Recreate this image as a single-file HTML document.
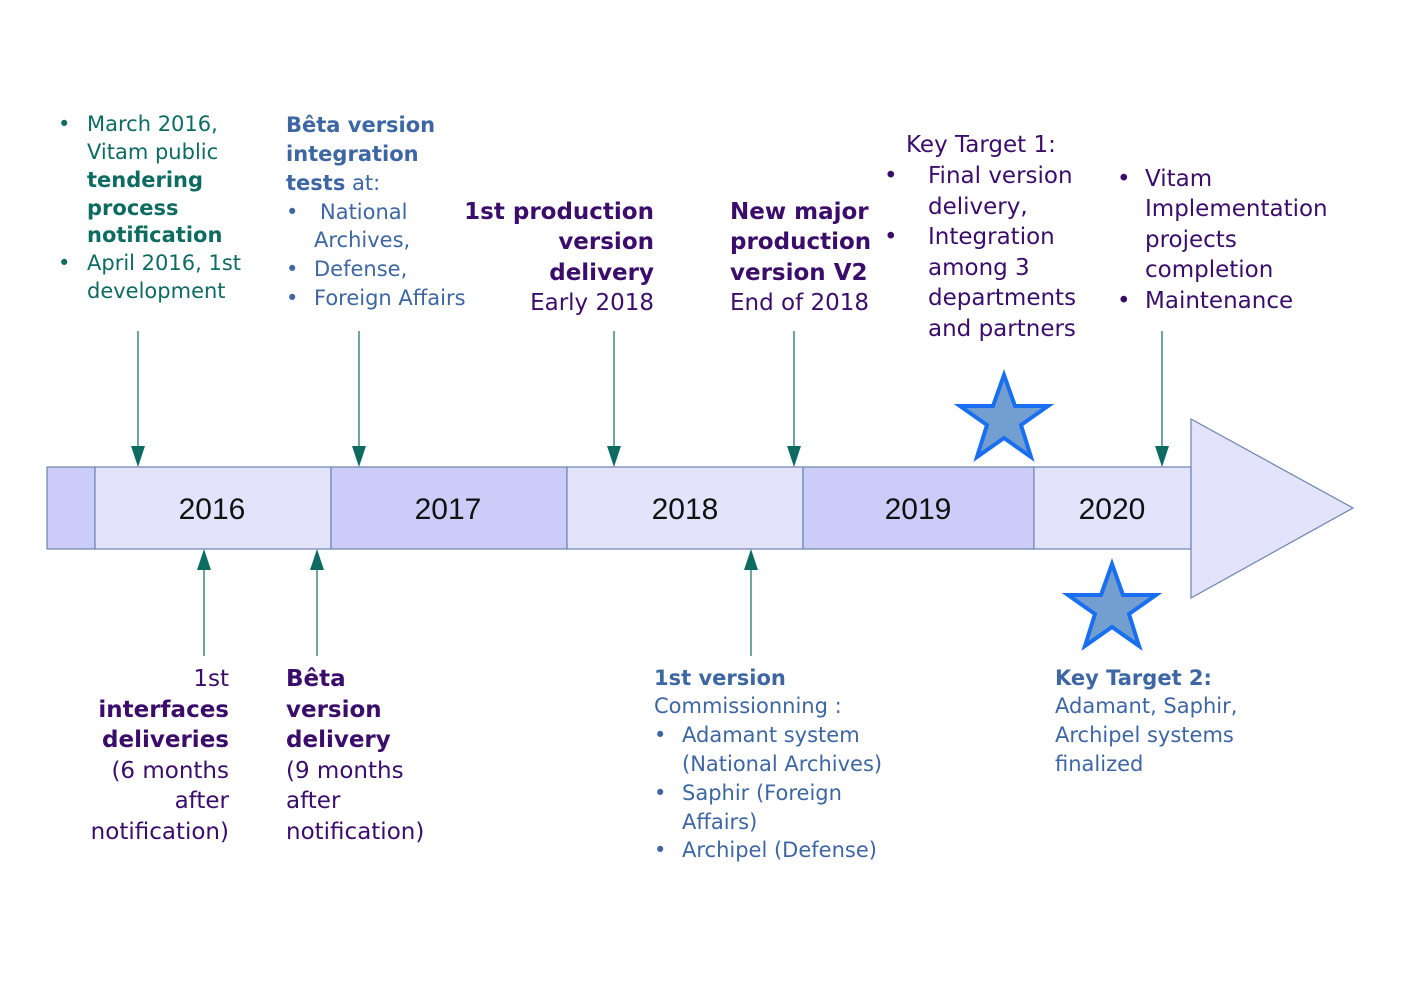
<!DOCTYPE html>
<html><head><meta charset="utf-8"><style>
html,body{margin:0;padding:0;background:#fff}
svg{display:block}
text{font-family:"DejaVu Sans","Liberation Sans",sans-serif}
.t{fill:#0d6b61;font-size:21px}
.b{fill:#3d66a3;font-size:21px}
.p{fill:#3b0d6b;font-size:23px}
.yr{font-family:"Liberation Sans",sans-serif;font-size:30px;fill:#111}
.bold{font-weight:bold}
</style></head><body>
<svg width="1403" height="992" viewBox="0 0 1403 992" xmlns="http://www.w3.org/2000/svg">
<!-- bar -->
<g stroke="#6c84b0" stroke-width="1.2">
<rect x="47" y="467" width="48" height="82" fill="#ccccf8"/>
<rect x="95" y="467" width="236" height="82" fill="#e3e3fb"/>
<rect x="331" y="467" width="236" height="82" fill="#ccccf8"/>
<rect x="567" y="467" width="236" height="82" fill="#e3e3fb"/>
<rect x="803" y="467" width="231" height="82" fill="#ccccf8"/>
<rect x="1034" y="467" width="157" height="82" fill="#e3e3fb"/>
<polygon points="1191,419 1353,508 1191,598" fill="#e3e3fb"/>
</g>
<text class="yr" x="212" y="519" text-anchor="middle">2016</text>
<text class="yr" x="448" y="519" text-anchor="middle">2017</text>
<text class="yr" x="685" y="519" text-anchor="middle">2018</text>
<text class="yr" x="918" y="519" text-anchor="middle">2019</text>
<text class="yr" x="1112" y="519" text-anchor="middle">2020</text>
<!-- arrows -->
<g stroke="#0d6b61" stroke-width="1.2" fill="none">
<line x1="138" y1="331" x2="138" y2="450"/>
<line x1="359" y1="331" x2="359" y2="450"/>
<line x1="614" y1="331" x2="614" y2="450"/>
<line x1="794" y1="331" x2="794" y2="450"/>
<line x1="1162" y1="331" x2="1162" y2="450"/>
<line x1="204" y1="656" x2="204" y2="566"/>
<line x1="317" y1="656" x2="317" y2="566"/>
<line x1="751" y1="656" x2="751" y2="566"/>
</g>
<g fill="#0d6b61">
<polygon points="131,446 145,446 138,467"/>
<polygon points="352,446 366,446 359,467"/>
<polygon points="607,446 621,446 614,467"/>
<polygon points="787,446 801,446 794,467"/>
<polygon points="1155,446 1169,446 1162,467"/>
<polygon points="197,570 211,570 204,549"/>
<polygon points="310,570 324,570 317,549"/>
<polygon points="744,570 758,570 751,549"/>
</g>
<!-- stars -->
<g fill="#729fcf" stroke="#1a6ff0" stroke-width="4">
<polygon points="1004,375 1015,406 1048,406 1021,425 1031,457 1004,438 977,457 987,425 960,406 993,406"/>
<polygon points="1112,564 1123,595 1156,595 1129,614 1139,646 1112,627 1085,646 1095,614 1068,595 1101,595"/>
</g>
<g class="t">
<text x="58" y="131">•</text><text x="87" y="131">March 2016,</text>
<text x="87" y="159">Vitam public</text>
<text x="87" y="187" class="bold">tendering</text>
<text x="87" y="215" class="bold">process</text>
<text x="87" y="242" class="bold">notification</text>
<text x="58" y="270">•</text><text x="87" y="270">April 2016, 1st</text>
<text x="87" y="298">development</text>
</g>
<g class="b">
<text x="286" y="132" class="bold">Bêta version</text>
<text x="286" y="161" class="bold">integration</text>
<text x="286" y="190"><tspan font-weight="bold">tests</tspan> at:</text>
<text x="286" y="219">•</text><text x="320" y="219">National</text>
<text x="314" y="247">Archives,</text>
<text x="286" y="276">•</text><text x="314" y="276">Defense,</text>
<text x="286" y="305">•</text><text x="314" y="305">Foreign Affairs</text>
</g>
<g class="p" text-anchor="end">
<text x="654" y="219" class="bold">1st production</text>
<text x="654" y="249" class="bold">version</text>
<text x="654" y="280" class="bold">delivery</text>
<text x="654" y="310">Early 2018</text>
</g>
<g class="p">
<text x="730" y="219" class="bold">New major</text>
<text x="730" y="249" class="bold">production</text>
<text x="730" y="280" class="bold">version V2</text>
<text x="730" y="310">End of 2018</text>
<text x="906" y="152">Key Target 1:</text>
<text x="884" y="183">•</text><text x="928" y="183">Final version</text>
<text x="928" y="214">delivery,</text>
<text x="884" y="244">•</text><text x="928" y="244">Integration</text>
<text x="928" y="275">among 3</text>
<text x="928" y="305">departments</text>
<text x="928" y="336">and partners</text>
<text x="1117" y="186">•</text><text x="1145" y="186">Vitam</text>
<text x="1145" y="216">Implementation</text>
<text x="1145" y="247">projects</text>
<text x="1145" y="277">completion</text>
<text x="1117" y="308">•</text><text x="1145" y="308">Maintenance</text>
</g>
<g class="p" text-anchor="end">
<text x="229" y="686">1st</text>
<text x="229" y="717" class="bold">interfaces</text>
<text x="229" y="747" class="bold">deliveries</text>
<text x="229" y="778">(6 months</text>
<text x="229" y="808">after</text>
<text x="229" y="839">notification)</text>
</g>
<g class="p">
<text x="286" y="686" class="bold">Bêta</text>
<text x="286" y="717" class="bold">version</text>
<text x="286" y="747" class="bold">delivery</text>
<text x="286" y="778">(9 months</text>
<text x="286" y="808">after</text>
<text x="286" y="839">notification)</text>
</g>
<g class="b">
<text x="654" y="685" class="bold">1st version</text>
<text x="654" y="713">Commissionning :</text>
<text x="654" y="742">•</text><text x="682" y="742">Adamant system</text>
<text x="682" y="771">(National Archives)</text>
<text x="654" y="800">•</text><text x="682" y="800">Saphir (Foreign</text>
<text x="682" y="829">Affairs)</text>
<text x="654" y="857">•</text><text x="682" y="857">Archipel (Defense)</text>
<text x="1055" y="685" class="bold">Key Target 2:</text>
<text x="1055" y="713">Adamant, Saphir,</text>
<text x="1055" y="742">Archipel systems</text>
<text x="1055" y="771">finalized</text>
</g>
</svg>
</body></html>
